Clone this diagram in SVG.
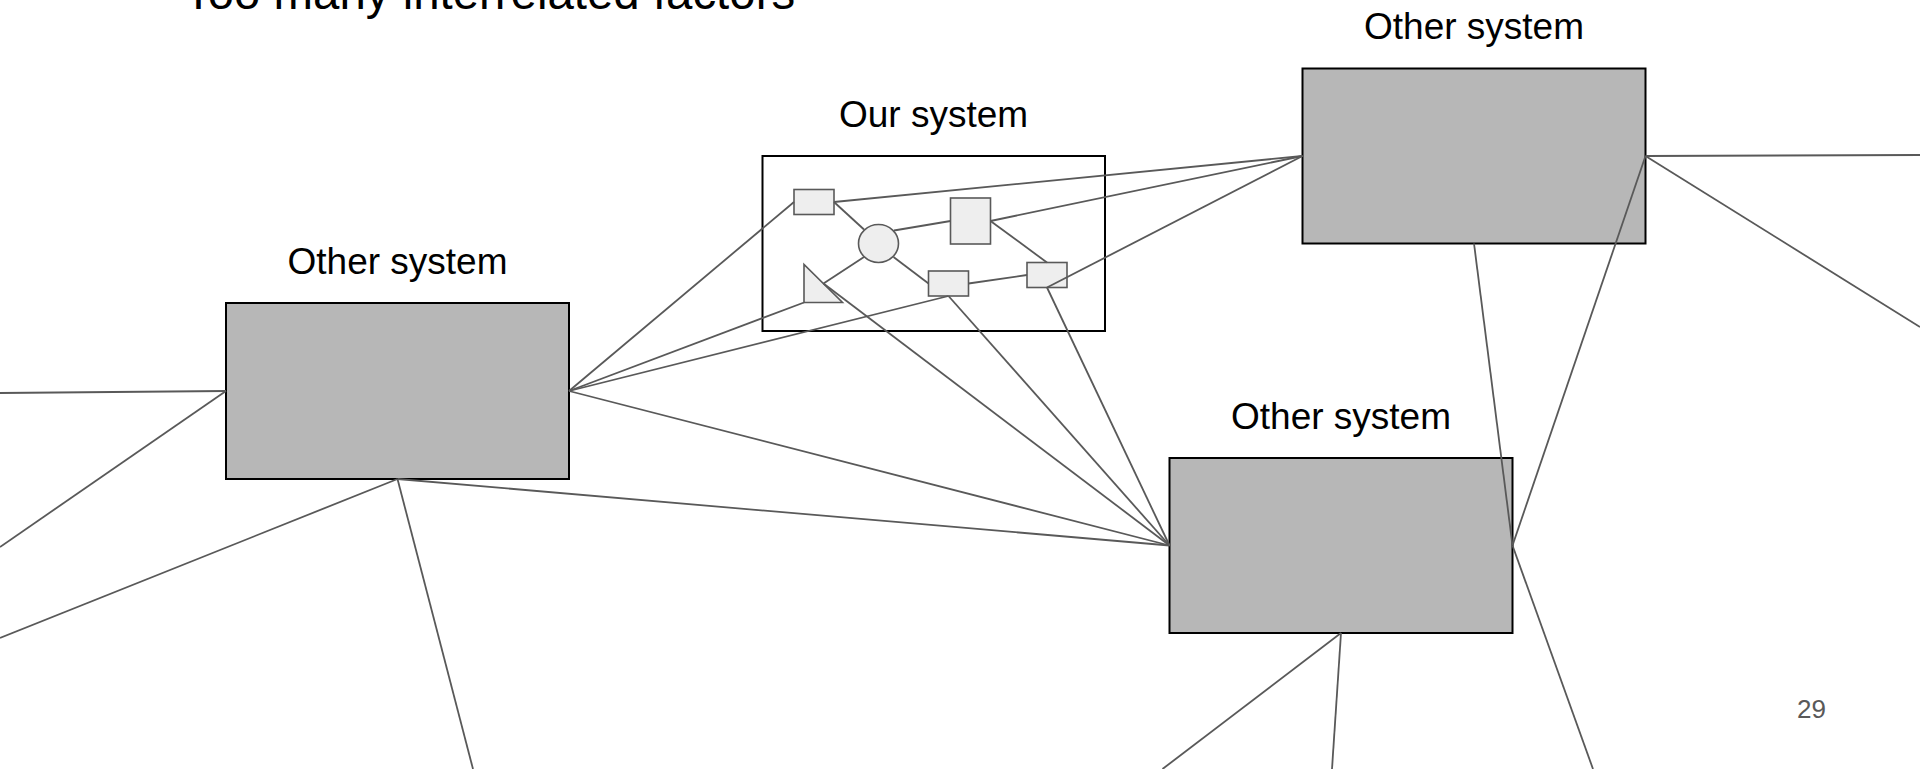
<svg xmlns="http://www.w3.org/2000/svg" width="1920" height="769" viewBox="0 0 1920 769">
  <style>
    .sys { fill: #b7b7b7; stroke: #000000; stroke-width: 2; }
    .frame { fill: none; stroke: #000000; stroke-width: 2; }
    .part { fill: #eeeeee; stroke: #595959; stroke-width: 1.6; }
    .label { font-family: "Liberation Sans", Arial, sans-serif; font-size: 37px; fill: #000000; text-anchor: middle; }
    .title { font-family: "Liberation Sans", Arial, sans-serif; font-size: 47.4px; fill: #000000; }
    .pagenum { font-family: "Liberation Sans", Arial, sans-serif; font-size: 26px; fill: #595959; text-anchor: end; }
    #connectors line { stroke: #595959; stroke-width: 1.8; fill: none; }
  </style>
  <rect width="1920" height="769" fill="#ffffff"/>

  <text class="title" x="184" y="9">Too many interrelated factors</text>

  <!-- Left external system -->
  <g id="left-system">
    <text class="label" x="397.5" y="273.5">Other system</text>
    <rect class="sys" x="226" y="303" width="343" height="176"/>
  </g>

  <!-- Upper right external system -->
  <g id="top-right-system">
    <text class="label" x="1474" y="39">Other system</text>
    <rect class="sys" x="1302.5" y="68.5" width="343" height="175"/>
  </g>

  <!-- Lower right external system -->
  <g id="bottom-right-system">
    <text class="label" x="1341" y="429">Other system</text>
    <rect class="sys" x="1169.5" y="458" width="343" height="175"/>
  </g>

  <!-- Our system with its internal parts -->
  <g id="our-system">
    <text class="label" x="933.5" y="126.5">Our system</text>
    <rect class="frame" x="762.5" y="156" width="342.5" height="175"/>
    <g id="part-rect-a"><rect class="part" x="794" y="189.5" width="40" height="25"/></g>
    <g id="part-circle"><ellipse class="part" cx="878.5" cy="243.5" rx="20" ry="19"/></g>
    <g id="part-tall-rect"><rect class="part" x="950.5" y="198" width="40" height="46"/></g>
    <g id="part-triangle"><polygon class="part" points="804,264.5 804,302.5 842.5,302.5"/></g>
    <g id="part-rect-b"><rect class="part" x="928.5" y="271" width="40" height="25"/></g>
    <g id="part-rect-c"><rect class="part" x="1027" y="262.5" width="40" height="25"/></g>
  </g>

  <g id="connectors">
    <!-- inside our system -->
    <line x1="834" y1="202" x2="864" y2="229.5"/>
    <line x1="894" y1="230.5" x2="950.5" y2="221"/>
    <line x1="864" y1="257" x2="823.5" y2="283.5"/>
    <line x1="893.5" y1="257" x2="928.5" y2="283.5"/>
    <line x1="968.5" y1="283.5" x2="1027" y2="275"/>
    <line x1="990.5" y1="221" x2="1047" y2="262.5"/>

    <!-- left system, right side -->
    <line x1="569" y1="391" x2="794" y2="202"/>
    <line x1="569" y1="391" x2="804" y2="302.5"/>
    <line x1="569" y1="391" x2="948.5" y2="296"/>
    <line x1="569" y1="391" x2="1169.5" y2="545.5"/>
    <line x1="397.5" y1="479" x2="1169.5" y2="545.5"/>

    <!-- left system, outgoing -->
    <line x1="226" y1="391" x2="0" y2="393"/>
    <line x1="226" y1="391" x2="0" y2="547"/>
    <line x1="397.5" y1="479" x2="0" y2="638"/>
    <line x1="397.5" y1="479" x2="473" y2="769"/>

    <!-- our system parts to lower right system -->
    <line x1="823.5" y1="283.5" x2="1169.5" y2="545.5"/>
    <line x1="948.5" y1="296" x2="1169.5" y2="545.5"/>
    <line x1="1047" y1="287.5" x2="1169.5" y2="545.5"/>

    <!-- upper right system -->
    <line x1="1302.5" y1="156" x2="834" y2="202"/>
    <line x1="1302.5" y1="156" x2="990.5" y2="221"/>
    <line x1="1302.5" y1="156" x2="1047" y2="287.5"/>
    <line x1="1645.5" y1="156" x2="1512.5" y2="545.5"/>
    <line x1="1474" y1="243.5" x2="1512.5" y2="545.5"/>
    <line x1="1645.5" y1="156" x2="1920" y2="155"/>
    <line x1="1645.5" y1="156" x2="1920" y2="327"/>

    <!-- lower right system, outgoing -->
    <line x1="1512.5" y1="545.5" x2="1593" y2="769"/>
    <line x1="1341" y1="633" x2="1162.5" y2="769"/>
    <line x1="1341" y1="633" x2="1332" y2="769"/>
  </g>

  <text class="pagenum" x="1826" y="718">29</text>
</svg>
